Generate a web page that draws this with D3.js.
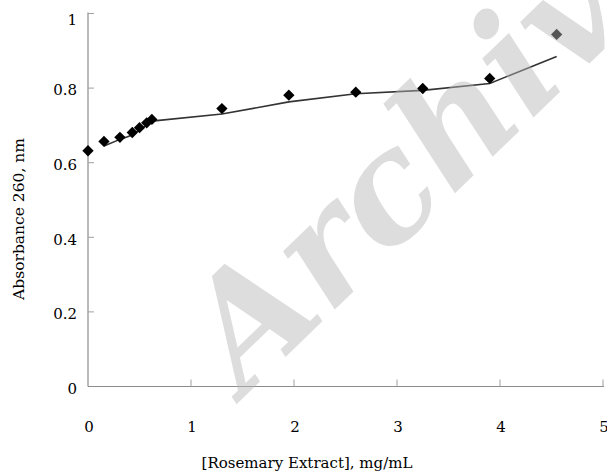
<!DOCTYPE html>
<html>
<head>
<meta charset="utf-8">
<script src="https://cdn.jsdelivr.net/npm/d3@7"></script>
<style>
  html, body { margin: 0; padding: 0; background: #fff; }
  svg { display: block; }
  text { font-family: "DejaVu Serif", serif; fill: #000; }
</style>
</head>
<body>
<svg id="chart" width="607" height="473"></svg>
<script>
// Data
const concentration = [0, 0.155, 0.31, 0.43, 0.5, 0.57, 0.62, 1.3, 1.95, 2.6, 3.25, 3.9, 4.55];
const absorbance    = [0.632, 0.657, 0.668, 0.681, 0.694, 0.707, 0.716, 0.745, 0.781, 0.789, 0.799, 0.826, 0.944];
const xTicks = [0, 1, 2, 3, 4, 5];
const yTicks = [0, 0.2, 0.4, 0.6, 0.8, 1];
const xTitle = "[Rosemary Extract], mg/mL";
const yTitle = "Absorbance 260, nm";
const watermark = "Archive of SID";

const svg = d3.select("#chart");
const x = d3.scaleLinear().domain([0, 5]).range([88, 603]);
const y = d3.scaleLinear().domain([0, 1]).range([386.5, 13.5]);

// axes lines
svg.append("line").attr("x1", x(0)).attr("x2", 604).attr("y1", y(0)).attr("y2", y(0))
  .attr("stroke", "#8c8c8c").attr("stroke-width", 1.2);
svg.append("line").attr("x1", x(0)).attr("x2", x(0)).attr("y1", y(0)).attr("y2", y(1) - 1)
  .attr("stroke", "#8c8c8c").attr("stroke-width", 1.2);

// ticks (inward)
svg.selectAll(".xt").data(xTicks.slice(1)).enter().append("line")
  .attr("x1", d => x(d)).attr("x2", d => x(d)).attr("y1", y(0)).attr("y2", y(0) - 7)
  .attr("stroke", "#a0a0a0").attr("stroke-width", 1);
svg.selectAll(".yt").data(yTicks.slice(1)).enter().append("line")
  .attr("x1", x(0)).attr("x2", x(0) + 6).attr("y1", d => y(d)).attr("y2", d => y(d))
  .attr("stroke", "#a0a0a0").attr("stroke-width", 1);

// tick labels
svg.selectAll(".xl").data(xTicks).enter().append("text")
  .attr("x", d => x(d) + 1).attr("y", 432)
  .attr("text-anchor", "middle").attr("font-size", 15)
  .text(d => d3.format("")(d));
svg.selectAll(".yl").data(yTicks).enter().append("text")
  .attr("x", 77).attr("y", d => y(d) + (d === 1 ? 6 : 2))
  .attr("dy", "0.35em")
  .attr("text-anchor", "end").attr("font-size", 15)
  .text(d => d3.format("")(d));

// axis titles
svg.append("text").attr("x", 307).attr("y", 468)
  .attr("text-anchor", "middle").attr("font-size", 15).text(xTitle);
svg.append("text").attr("transform", "translate(24,219) rotate(-90)")
  .attr("text-anchor", "middle").attr("font-size", 15.5).text(yTitle);

// 2-period moving average trendline
const pts = concentration.map((c, i) => ({ x: c, y: absorbance[i] }));
const ma = pts.slice(1).map((p, i) => ({ x: p.x, y: (p.y + pts[i].y) / 2 }));
const line = d3.line().x(d => x(d.x)).y(d => y(d.y));
svg.append("path").datum(ma).attr("d", line)
  .attr("fill", "none").attr("stroke", "#333").attr("stroke-width", 1.6);

// diamond markers
const sym = d3.symbol().type(d3.symbolSquare).size(64);
svg.selectAll(".pt").data(pts).enter().append("path")
  .attr("d", sym)
  .attr("transform", d => `translate(${x(d.x)},${y(d.y)}) rotate(45)`)
  .attr("fill", "#000");

// watermark overlay
svg.append("text")
  .attr("transform", "translate(245,396) rotate(-44)")
  .attr("font-family", "Liberation Serif")
  .attr("font-weight", "bold").attr("font-style", "italic")
  .attr("font-size", 150)
  .attr("fill-opacity", 0.47)
  .style("fill", "#b6b6b6")
  .text(watermark);
</script>
</body>
</html>
